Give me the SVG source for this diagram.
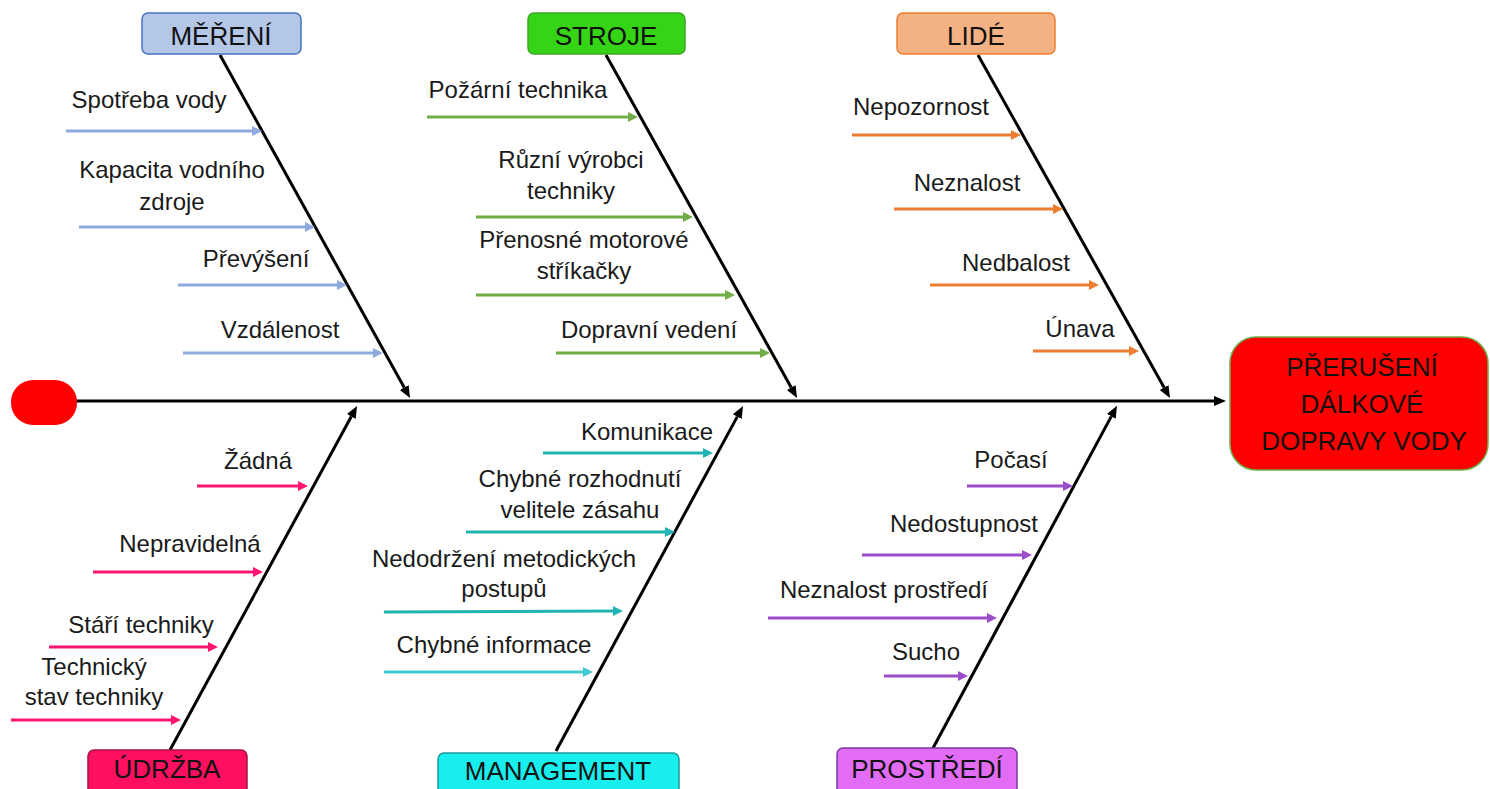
<svg xmlns="http://www.w3.org/2000/svg" width="1490" height="789" viewBox="0 0 1490 789">
<style>
.t{font-family:"Liberation Sans",Arial,sans-serif;font-size:24px;fill:#1a1a1a;text-anchor:middle}
.h{font-family:"Liberation Sans",Arial,sans-serif;font-size:26px;fill:#111;text-anchor:middle}
.bone{stroke:#000;stroke-width:3;fill:none}
.sub{stroke-width:3;fill:none}
.blue{stroke:#8faadc}.green{stroke:#70ad47}.orange{stroke:#ed7d31}.pink{stroke:#ff1470}.teal{stroke:#22b4b4}.teal2{stroke:#40cccc}.purple{stroke:#9b4dca}
</style>
<defs>
<marker id="mk" markerUnits="userSpaceOnUse" viewBox="0 -6 13 12" refX="0" refY="0" markerWidth="13" markerHeight="12" orient="auto"><path d="M0,-5 L12,0 L0,5 z" fill="#000"/></marker>
<marker id="mb" markerUnits="userSpaceOnUse" viewBox="0 -6 11 12" refX="0" refY="0" markerWidth="11" markerHeight="12" orient="auto"><path d="M0,-5 L10,0 L0,5 z" fill="#8faadc"/></marker>
<marker id="mg" markerUnits="userSpaceOnUse" viewBox="0 -6 11 12" refX="0" refY="0" markerWidth="11" markerHeight="12" orient="auto"><path d="M0,-5 L10,0 L0,5 z" fill="#70ad47"/></marker>
<marker id="mo" markerUnits="userSpaceOnUse" viewBox="0 -6 11 12" refX="0" refY="0" markerWidth="11" markerHeight="12" orient="auto"><path d="M0,-5 L10,0 L0,5 z" fill="#ed7d31"/></marker>
<marker id="mp" markerUnits="userSpaceOnUse" viewBox="0 -6 11 12" refX="0" refY="0" markerWidth="11" markerHeight="12" orient="auto"><path d="M0,-5 L10,0 L0,5 z" fill="#ff1470"/></marker>
<marker id="mt" markerUnits="userSpaceOnUse" viewBox="0 -6 11 12" refX="0" refY="0" markerWidth="11" markerHeight="12" orient="auto"><path d="M0,-5 L10,0 L0,5 z" fill="#22b4b4"/></marker>
<marker id="mt2" markerUnits="userSpaceOnUse" viewBox="0 -6 11 12" refX="0" refY="0" markerWidth="11" markerHeight="12" orient="auto"><path d="M0,-5 L10,0 L0,5 z" fill="#40cccc"/></marker>
<marker id="mv" markerUnits="userSpaceOnUse" viewBox="0 -6 11 12" refX="0" refY="0" markerWidth="11" markerHeight="12" orient="auto"><path d="M0,-5 L10,0 L0,5 z" fill="#9b4dca"/></marker>
</defs>
<rect width="1490" height="789" fill="#fff"/>

<g id="connectors">
<line class="bone" x1="75" y1="401" x2="1214" y2="401" marker-end="url(#mk)"/>
<line class="bone" x1="220" y1="55" x2="404.2" y2="387.5" marker-end="url(#mk)"/>
<line class="bone" x1="606" y1="55" x2="791.2" y2="387.5" marker-end="url(#mk)"/>
<line class="bone" x1="978" y1="55" x2="1164.1" y2="387.5" marker-end="url(#mk)"/>
<line class="bone" x1="170" y1="750" x2="351.3" y2="416.5" marker-end="url(#mk)"/>
<line class="bone" x1="556" y1="751" x2="737.3" y2="416.6" marker-end="url(#mk)"/>
<line class="bone" x1="932" y1="750" x2="1111.3" y2="416.4" marker-end="url(#mk)"/>

<line class="sub blue" x1="66" y1="131" x2="252" y2="131" marker-end="url(#mb)"/>
<line class="sub blue" x1="79" y1="227" x2="305" y2="227" marker-end="url(#mb)"/>
<line class="sub blue" x1="178" y1="285" x2="337" y2="285" marker-end="url(#mb)"/>
<line class="sub blue" x1="183" y1="353" x2="373" y2="353" marker-end="url(#mb)"/>

<line class="sub green" x1="427" y1="117" x2="628" y2="117" marker-end="url(#mg)"/>
<line class="sub green" x1="476" y1="217" x2="683" y2="217" marker-end="url(#mg)"/>
<line class="sub green" x1="476" y1="295" x2="725" y2="295" marker-end="url(#mg)"/>
<line class="sub green" x1="556" y1="353" x2="760" y2="353" marker-end="url(#mg)"/>

<line class="sub orange" x1="852" y1="135" x2="1011" y2="135" marker-end="url(#mo)"/>
<line class="sub orange" x1="894" y1="209" x2="1053" y2="209" marker-end="url(#mo)"/>
<line class="sub orange" x1="930" y1="285" x2="1089" y2="285" marker-end="url(#mo)"/>
<line class="sub orange" x1="1033" y1="351" x2="1129" y2="351" marker-end="url(#mo)"/>

<line class="sub pink" x1="197" y1="486" x2="298" y2="486" marker-end="url(#mp)"/>
<line class="sub pink" x1="93" y1="572" x2="253" y2="572" marker-end="url(#mp)"/>
<line class="sub pink" x1="49" y1="647" x2="208" y2="647" marker-end="url(#mp)"/>
<line class="sub pink" x1="11" y1="720" x2="171" y2="720" marker-end="url(#mp)"/>

<line class="sub teal" x1="543" y1="453" x2="703" y2="453" marker-end="url(#mt)"/>
<line class="sub teal" x1="466" y1="532" x2="665" y2="532" marker-end="url(#mt)"/>
<line class="sub teal" x1="384" y1="612" x2="613" y2="611" marker-end="url(#mt)"/>
<line class="sub teal2" x1="384" y1="672" x2="583" y2="672" marker-end="url(#mt2)"/>

<line class="sub purple" x1="967" y1="486" x2="1063" y2="486" marker-end="url(#mv)"/>
<line class="sub purple" x1="862" y1="555" x2="1022" y2="555" marker-end="url(#mv)"/>
<line class="sub purple" x1="768" y1="618" x2="987" y2="618" marker-end="url(#mv)"/>
<line class="sub purple" x1="884" y1="676" x2="958" y2="676" marker-end="url(#mv)"/>
</g>

<g id="start"><rect x="11" y="380" width="66" height="45" rx="22" fill="#ff0000"/></g>

<g id="effect">
<rect x="1230" y="337" width="258" height="133" rx="26" fill="#ff0000" stroke="#70ad47" stroke-width="1.5"/>
<text class="h" x="1362" y="376" font-size="25">PŘERUŠENÍ</text>
<text class="h" x="1362" y="413" font-size="25">DÁLKOVÉ</text>
<text class="h" x="1364" y="450" font-size="25">DOPRAVY VODY</text>
</g>

<g id="mereni">
<rect x="142" y="13" width="159" height="41" rx="6" fill="#b4c7e7" stroke="#4472c4" stroke-width="1.5"/>
<text class="h" x="221" y="45">MĚŘENÍ</text>
<text class="t" x="149" y="108">Spotřeba vody</text>
<text class="t" x="172" y="178">Kapacita vodního</text>
<text class="t" x="172" y="210">zdroje</text>
<text class="t" x="256" y="267">Převýšení</text>
<text class="t" x="280" y="338">Vzdálenost</text>
</g>

<g id="stroje">
<rect x="528" y="13" width="157" height="41" rx="6" fill="#36d417" stroke="#3fa52a" stroke-width="1.5"/>
<text class="h" x="606" y="45">STROJE</text>
<text class="t" x="518" y="98">Požární technika</text>
<text class="t" x="571" y="168">Různí výrobci</text>
<text class="t" x="571" y="199">techniky</text>
<text class="t" x="584" y="248">Přenosné motorové</text>
<text class="t" x="584" y="279">stříkačky</text>
<text class="t" x="649" y="338">Dopravní vedení</text>
</g>

<g id="lide">
<rect x="897" y="13" width="158" height="41" rx="6" fill="#f4b183" stroke="#ed7d31" stroke-width="1.5"/>
<text class="h" x="976" y="45">LIDÉ</text>
<text class="t" x="921" y="115">Nepozornost</text>
<text class="t" x="967" y="191">Neznalost</text>
<text class="t" x="1016" y="271">Nedbalost</text>
<text class="t" x="1080" y="337">Únava</text>
</g>

<g id="udrzba">
<rect x="88" y="750" width="159" height="50" rx="6" fill="#ff0f5f" stroke="#a8103f" stroke-width="1.5"/>
<text class="h" x="167" y="778">ÚDRŽBA</text>
<text class="t" x="258" y="469">Žádná</text>
<text class="t" x="190" y="552">Nepravidelná</text>
<text class="t" x="141" y="633">Stáří techniky</text>
<text class="t" x="94" y="675">Technický</text>
<text class="t" x="94" y="705">stav techniky</text>
</g>

<g id="management">
<rect x="438" y="753" width="241" height="50" rx="6" fill="#19eeee" stroke="#1a9a9a" stroke-width="1.5"/>
<text class="h" x="558" y="780">MANAGEMENT</text>
<text class="t" x="647" y="440">Komunikace</text>
<text class="t" x="580" y="487">Chybné rozhodnutí</text>
<text class="t" x="580" y="518">velitele zásahu</text>
<text class="t" x="504" y="567">Nedodržení metodických</text>
<text class="t" x="504" y="597">postupů</text>
<text class="t" x="494" y="653">Chybné informace</text>
</g>

<g id="prostredi">
<rect x="837" y="748" width="180" height="50" rx="6" fill="#e26cf4" stroke="#7a3aa0" stroke-width="1.5"/>
<text class="h" x="927" y="778">PROSTŘEDÍ</text>
<text class="t" x="1011" y="468">Počasí</text>
<text class="t" x="964" y="532">Nedostupnost</text>
<text class="t" x="884" y="598">Neznalost prostředí</text>
<text class="t" x="926" y="660">Sucho</text>
</g>
</svg>
